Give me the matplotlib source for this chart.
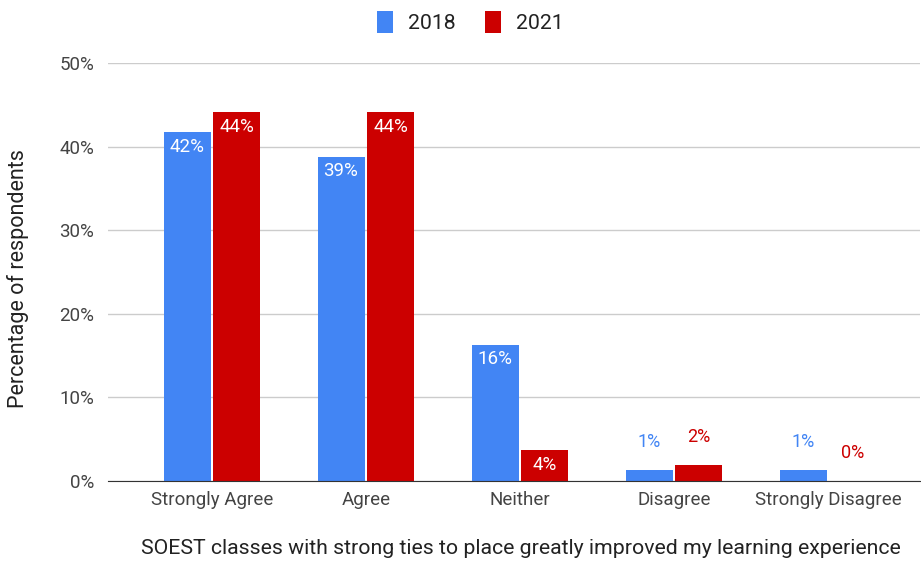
import numpy as np
import matplotlib
matplotlib.use('Agg')
import matplotlib.pyplot as plt

plt.rcParams['font.family'] = ['Roboto', 'DejaVu Sans']

categories = ['Strongly Agree', 'Agree', 'Neither', 'Disagree', 'Strongly Disagree']
vals_2018 = [41.7, 38.8, 16.3, 1.3, 1.3]
vals_2021 = [44.1, 44.1, 3.7, 1.9, 0.0]
labels_2018 = ['42%', '39%', '16%', '1%', '1%']
labels_2021 = ['44%', '44%', '4%', '2%', '0%']
years = ['2018', '2021']

blue = '#4285F4'
red = '#CC0000'

fig = plt.figure(figsize=(9.21, 5.61), dpi=100)
ax = fig.add_axes([108 / 921, 80 / 561, 812 / 921, 418 / 561])

x = np.arange(len(categories))
w = 0.305
off = 0.162
b1 = ax.bar(x - off, vals_2018, w, color=blue, label=years[0], zorder=3)
b2 = ax.bar(x + off, vals_2021, w, color=red, label=years[1], zorder=3)

# data labels: inside (white) for tall bars, above (coloured) for short ones
for bars, labs, col in [(b1, labels_2018, blue), (b2, labels_2021, red)]:
    for b, lab in zip(bars, labs):
        h = b.get_height()
        cx = b.get_x() + b.get_width() / 2
        if h >= 3:
            ax.annotate(lab, (cx, h), xytext=(0, -4), textcoords='offset points',
                        ha='center', va='top', color='white', fontsize=13.5, zorder=4)
        else:
            ax.annotate(lab, (cx, h), xytext=(0, 14), textcoords='offset points',
                        ha='center', va='bottom', color=col, fontsize=13, zorder=4)

ax.set_xlim(-0.675, 4.597)
ax.set_ylim(0, 50)
ax.set_yticks([0, 10, 20, 30, 40, 50])
ax.set_yticklabels(['0%', '10%', '20%', '30%', '40%', '50%'])
ax.set_xticks(x)
ax.set_xticklabels(categories)
ax.tick_params(axis='both', length=0, labelsize=13.5, colors='#444444')
ax.tick_params(axis='x', pad=7)
ax.tick_params(axis='y', pad=10)
ax.grid(axis='y', color='#cccccc', linewidth=1, zorder=0)
for s in ['top', 'right', 'left']:
    ax.spines[s].set_visible(False)
ax.spines['bottom'].set_color('#333333')
ax.spines['bottom'].set_zorder(5)

fig.text(18 / 921, 1 - 279 / 561, 'Percentage of respondents', rotation=90,
         ha='center', va='center', fontsize=15.5, color='#222222')
fig.text(521 / 921, 1 - 549 / 561,
         'SOEST classes with strong ties to place greatly improved my learning experience',
         ha='center', va='center', fontsize=15.3, color='#222222')

fig.legend(handles=[b1, b2], labels=years, loc='center', bbox_to_anchor=(470 / 921, 1 - 22 / 561),
           ncol=2, frameon=False, fontsize=15.3, handlelength=0.75, handleheight=1.2,
           columnspacing=1.4, handletextpad=0.7, labelcolor='#222222')

fig.savefig('out.png', dpi=100)
